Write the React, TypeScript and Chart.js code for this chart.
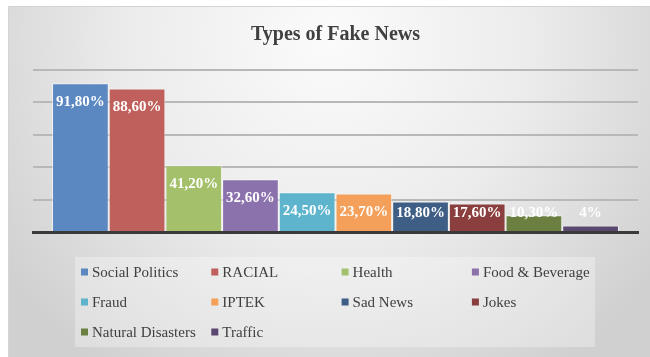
import React, { useEffect, useRef } from "react";
import { Chart, registerables } from "chart.js";

Chart.register(...registerables);

const categories = ["Social Politics", "RACIAL", "Health", "Food & Beverage", "Fraud", "IPTEK", "Sad News", "Jokes", "Natural Disasters", "Traffic"];
const values = [91.8, 88.6, 41.2, 32.6, 24.5, 23.7, 18.8, 17.6, 10.3, 4];
const valueLabels = ["91,80%", "88,60%", "41,20%", "32,60%", "24,50%", "23,70%", "18,80%", "17,60%", "10,30%", "4%"];
const colors = ["#5b88c0", "#c0605c", "#a5c06a", "#8c72ad", "#5db4cc", "#f5a05a", "#3e5e85", "#8a3f3e", "#6b8040", "#5a4870"];
const yTicks = [0, 20, 40, 60, 80, 100];

const SERIF = "'Liberation Serif', 'Times New Roman', serif";

const backgroundPlugin = {
  id: "bgFrame",
  beforeDraw(chart: any) {
    const ctx = chart.ctx;
    ctx.save();
    ctx.fillStyle = "#ffffff";
    ctx.fillRect(0, 0, chart.width, chart.height);
    const g = ctx.createRadialGradient(330, 40, 0, 330, 40, 400);
    g.addColorStop(0, "#fbfbfb");
    g.addColorStop(0.5, "#ececec");
    g.addColorStop(1, "#d0d0d0");
    ctx.fillStyle = g;
    ctx.fillRect(8, 6, chart.width - 8, chart.height - 6);
    ctx.strokeStyle = "#d4d4d4";
    ctx.lineWidth = 1;
    ctx.beginPath();
    ctx.moveTo(8.5, chart.height);
    ctx.lineTo(8.5, 6.5);
    ctx.lineTo(chart.width, 6.5);
    ctx.stroke();
    ctx.restore();
  },
};

const labelPlugin = {
  id: "valueLabels",
  afterDatasetsDraw(chart: any) {
    const ctx = chart.ctx;
    ctx.save();
    ctx.font = `bold 15px ${SERIF}`;
    ctx.fillStyle = "#ffffff";
    ctx.textAlign = "center";
    ctx.textBaseline = "middle";
    chart.data.datasets.forEach((ds: any, i: number) => {
      const meta = chart.getDatasetMeta(i);
      const el = meta.data[0];
      if (!el) return;
      const y = Math.min(el.y + 19, el.base - 18);
      ctx.fillText(valueLabels[i], el.x, y);
    });
    ctx.restore();
  },
};

const legendPlugin = {
  id: "gridLegend",
  afterDraw(chart: any) {
    const ctx = chart.ctx;
    ctx.save();
    ctx.fillStyle = "rgba(255,255,255,0.3)";
    ctx.fillRect(75, 257, 520, 90);
    ctx.font = `15px ${SERIF}`;
    ctx.textBaseline = "middle";
    ctx.textAlign = "left";
    chart.data.datasets.forEach((ds: any, i: number) => {
      const col = i % 4;
      const row = Math.floor(i / 4);
      const x = 81 + col * 130.3;
      const y = 272 + row * 30;
      ctx.fillStyle = ds.backgroundColor;
      ctx.fillRect(x, y - 3.5, 7, 7);
      ctx.fillStyle = "#404040";
      ctx.fillText(ds.label, x + 11, y + 1);
    });
    ctx.restore();
  },
};

export default function App() {
  const ref = useRef<HTMLCanvasElement | null>(null);
  useEffect(() => {
    if (!ref.current) return;
    const chart = new Chart(ref.current, {
      type: "bar",
      data: {
        labels: [""],
        datasets: categories.map((c, i) => ({
          label: c,
          data: [values[i]],
          backgroundColor: colors[i],
          borderColor: "rgba(255,255,255,0.55)",
          borderWidth: 1,
          categoryPercentage: 0.937,
          barPercentage: 1,
        })),
      },
      options: {
        responsive: false,
        animation: false,
        devicePixelRatio: 1,
        layout: { padding: { left: 33, right: 12, top: 23, bottom: 117 } },
        plugins: {
          legend: { display: false },
          tooltip: { enabled: false },
          title: {
            display: true,
            text: "Types of Fake News",
            color: "#404040",
            font: { family: SERIF, size: 20, weight: "bold" },
            padding: { top: 0, bottom: 23 },
          },
        },
        scales: {
          x: {
            grid: { display: false },
            ticks: { display: false },
            border: { display: true, color: "#3a3a3a", width: 3 },
          },
          y: {
            min: yTicks[0],
            max: yTicks[yTicks.length - 1],
            ticks: { display: false, stepSize: 20 },
            grid: { color: "#b8b8b8", lineWidth: 2, drawTicks: false },
            border: { display: false },
          },
        },
      },
      plugins: [backgroundPlugin, labelPlugin, legendPlugin],
    });
    return () => chart.destroy();
  }, []);
  return (
    <div style={{ position: "fixed", left: 0, top: 0, width: 650, height: 357 }}>
      <canvas ref={ref} width={650} height={357} style={{ display: "block" }} />
    </div>
  );
}
